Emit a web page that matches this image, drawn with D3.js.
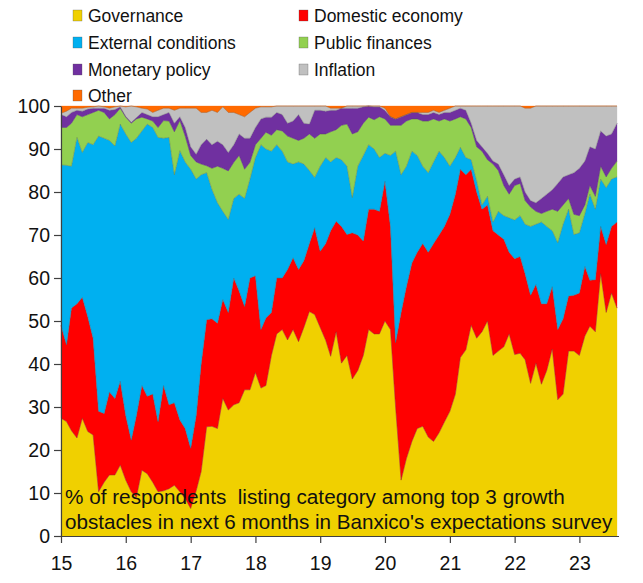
<!DOCTYPE html>
<html><head><meta charset="utf-8">
<script src="https://cdn.jsdelivr.net/npm/d3@7"></script>
<style>body{margin:0;background:#fff}svg{display:block}</style>
</head><body><svg id="c" width="643" height="583"></svg>
<script>
const seriesNames = ["Governance","Domestic economy","External conditions","Public finances","Monetary policy","Inflation","Other"];
const seriesColors = ["#F0D000","#FF0000","#00B0F0","#92D050","#7030A0","#C0C0C0","#FF6A00"];
const startMonth = new Date(2015,0,1), endMonth = new Date(2023,7,1);
const yearTicks = [2015,2016,2017,2018,2019,2020,2021,2022,2023];
const yTicks = [0,10,20,30,40,50,60,70,80,90,100];
const noteLines = ["% of respondents  listing category among top 3 growth","obstacles in next 6 months in Banxico's expectations survey"];

const governance = [27.4,26.6,24.5,22.8,27.4,24.3,23.5,10.3,12.5,14.2,14.2,16.5, 13,10.3,9,15.3,14.5,12.5,10.3,10.5,11,11.8,10.3,8.7, 6.4,10.5,15,25.4,25.5,25,32,29.3,30.5,31,34,34, 38,34.4,35,42,47,48,45.6,48,45.2,48.5,52.2,51.5, 48.5,45.5,41.8,47.5,40.2,42,36.5,38.5,42,48,47,47, 50,48,30,13,18,22,25,25.5,23,22,24,26.5, 29,33,41.5,43.3,49,46,47.5,50,42,43,44,47, 42.2,42.5,41,35.5,40.2,35.3,38.5,43.5,31.7,33,43,43, 42,46.5,48.8,47.5,61,52,56.5,53];
const domesticEconomy = [21.6,17.9,28.5,31.2,28.1,26.7,22.5,18.7,16,19.3,17.8,19.5, 15,12,19,19.7,18,20.5,16.3,24.5,19.5,19.2,16.7,16.3, 14,17.5,25,24.9,25,24.5,23,22.7,29.5,26,19.4,26, 22.5,13.6,15.7,10,13,12,16.4,16.7,16.8,15.5,15.8,20.2, 17.7,22.5,29.2,25.7,31.8,28.1,34,31.5,26.6,28,29,28.5, 32.5,24,15,39,40,41.5,41,42.5,43,46,46,45.5, 45.8,46.5,43.8,40.7,36.3,34,28.5,27,29,27,25,19, 22.3,22.5,20,20.5,18.3,18.7,15.5,14.5,16.3,17.5,12.8,13, 14.5,16.2,10.7,12.1,11,15.8,15.5,20];
const externalConditions = [37.3,41.7,33,38.7,33.7,40.5,45,64,64,58.5,58.7,59.8, 65.5,69.2,64.5,59.2,63.3,62,66.1,57.5,62.2,53,62.6,62, 64.9,55,44,34.2,30.1,28,20.5,21.6,18.5,22.5,25.1,23, 27.5,43,39.3,37.5,31,29.5,25,21.8,25,22.5,17,11.7, 19.8,20,16,14.8,15.5,15.9,8.2,16,19.9,15,14,12.5, 6.5,16.5,44.5,32,28,26,22.5,18,18.5,19,19.5,16, 11.2,8.5,5.1,4,2.2,2.6,1,2,2,5.5,5.5,8, 9,9.5,11.5,16,14,19,18,13,20.2,22,20.2,14.1, 14,12.3,20,16.4,11,13.2,11,10.5];
const publicFinances = [8.7,8.8,10,5.3,8.3,6.5,7.5,6,6,5,7.3,3.7, 3.9,4.5,4.5,3.2,1.2,1.5,2.3,4.1,3.8,10,7,6, 3.2,4,2.5,1.6,4.9,8.5,10,11.3,8.4,9,6.8,3.9, 3,1.5,3.9,3.7,3.5,4.7,6,6,5,6,8.5,9.1, 7.5,5.5,7,6.5,8,9.8,14.8,8,7.5,6.4,6.8,9.5, 8,7,6,11.5,10.5,7.5,8.5,10.5,12,10,7,9, 10.5,9,7.1,9,7.5,7.9,12.5,8.5,13.5,9.5,7,5.5, 8,7.5,5.5,4.5,3,2,3.5,5,7.3,4.5,2.5,4.7, 4,2,2,3,3,2.5,2.5,3.7];
const monetaryPolicy = [3,2.5,2.5,1,1.3,1.3,1,0.5,1,2,1.2,0.3, 0.2,0.2,0.3,1.1,1,1,2.5,1.4,2,2,0.9,2, 2,1.8,4.5,6.2,5.5,5.8,5.5,4.3,4.1,5,7.2,5.6, 4,4.5,3.5,4.2,4,3.8,3,4,6,3.5,2.3,6.5, 5.5,5.3,5,4.5,4,3.7,6,5.5,3.8,2.6,3,2.3, 2,2,1.5,2,1.5,1.5,1.5,1.5,1.5,1.5,1.5,1.5, 2,2,2,2,1,1.5,1,1.5,0.7,1.5,2.5,2, 1.5,1.5,2,1.5,2,3.5,4,4.5,6.5,6.5,5.5,9.7, 11,10.2,9,11,8.2,9.5,8,8.8];
const inflation = [0.3,1.3,1,0.5,0.7,0.4,0.3,0.5,0.3,0.5,0.6,0.2, 2.2,3.8,2.5,1,1.3,1,1.5,1.5,1,3,2,4.5, 9,10.7,7.5,6.2,8,6.7,8.8,9.3,7.5,4.5,5,6, 4.5,2.8,2.4,2.4,1.5,2,4,3.5,2,4,4.2,1, 1,1.2,0.5,0.5,0,0.5,0.5,0.5,0.2,0,0.2,0.2, 0.5,0,0,0,0,0,0,0.5,0.5,0.5,0.5,0.5, 1,1,0.5,1,4,8,9.5,11,12.8,13.5,16,18.5, 17,16.5,19.5,21.5,22.5,21.5,20.5,19.5,18,16.5,16,15.5, 14.5,12.8,9.5,10,5.8,7,6.5,4];
const other = [1.7,1.2,0.5,0.5,0.5,0.3,0.2,0,0.2,0.5,0.2,0, 0.2,0,0.2,0.5,0.7,1.5,1,0.5,0.5,1,0.5,0.5, 0.5,0.5,1.5,1.5,1,1.5,0.2,1.5,1.5,2,2.5,1.5, 0.5,0.2,0.2,0.2,0,0,0,0,0,0,0,0, 0,0,0.5,0.5,0.5,0,0,0,0,0,0,0, 0.5,2.5,3,2.5,2,1.5,1.5,1.5,1.5,1,1.5,1, 0.5,0,0,0,0,0,0,0,0,0,0,0, 0,0,0.5,0.5,0,0,0,0,0,0,0,0, 0,0,0,0,0,0,0,0];

const seriesValues = [governance,domesticEconomy,externalConditions,publicFinances,monetaryPolicy,inflation,other];
const months = d3.timeMonth.range(startMonth, d3.timeMonth.offset(endMonth,1));
const rows = months.map((d,i)=>{const r={date:d}; seriesNames.forEach((k,j)=>r[k]=seriesValues[j][i]); return r;});

const svg = d3.select("#c");
const FONT = "'Liberation Sans', Arial, sans-serif";
const x = d3.scaleTime().domain([startMonth,endMonth]).range([61,617]);
const y = d3.scaleLinear().domain([0,100]).range([536,106]);

const stacked = d3.stack().keys(seriesNames)(rows);
const area = d3.area().x(d=>x(d.data.date)).y0(d=>y(d[0])).y1(d=>y(d[1]));
svg.append("g").selectAll("path").data(stacked).join("path")
  .attr("d",area).attr("fill",(d,i)=>seriesColors[i])
  .attr("stroke",(d,i)=>seriesColors[i]).attr("stroke-width",0.3);
svg.append("g").selectAll("path").data(stacked.slice(0,6)).join("path")
  .attr("d",d3.line().x(d=>x(d.data.date)).y(d=>y(d[1]))).attr("fill","none")
  .attr("stroke","rgba(70,70,70,0.45)").attr("stroke-width",0.6);

// note
const note = svg.append("g").attr("font-family",FONT).attr("fill","#111");
const noteTargets = [500,548];
noteLines.forEach((t,i)=>{
  const tx = note.append("text").attr("x",65).attr("y",[504,529][i]).attr("font-size",19).text(t).style("white-space","pre");
  const len = tx.node().getComputedTextLength();
  tx.attr("font-size",19*noteTargets[i]/len);
});

// axes
const yAxis = d3.axisLeft(y).tickValues(yTicks).tickSize(7).tickSizeOuter(0).tickPadding(4);
const gy = svg.append("g").attr("transform","translate(61,0)").call(yAxis);
const xAxis = d3.axisBottom(x).tickValues(yearTicks.map(v=>new Date(v,0,1))).tickFormat(d3.timeFormat("%y")).tickSize(7).tickSizeOuter(0).tickPadding(13);
const gx = svg.append("g").attr("transform","translate(0,536)").call(xAxis);
gx.select(".domain").attr("d","M61,0.5H619");
[gx,gy].forEach(g=>{
  g.selectAll(".domain,line").attr("stroke","#404040").attr("stroke-width",1.2);
  g.selectAll("text").attr("font-family",FONT).attr("font-size",19.5).attr("fill","#111");
});

// legend
const legendPos = [[73,16],[299,16],[73,43],[299,43],[73,70],[299,70],[73,96]];
const lg = svg.append("g").attr("font-family",FONT).attr("font-size",17.5).attr("fill","#111");
seriesNames.forEach((n,i)=>{
  const [lx,ly] = legendPos[i];
  lg.append("rect").attr("x",lx).attr("y",ly-6).attr("width",9).attr("height",11).attr("fill",seriesColors[i]).attr("stroke","#555").attr("stroke-width",0.3);
  lg.append("text").attr("x",lx+15).attr("y",ly).attr("dy","0.36em").text(n);
});
</script></body></html>
